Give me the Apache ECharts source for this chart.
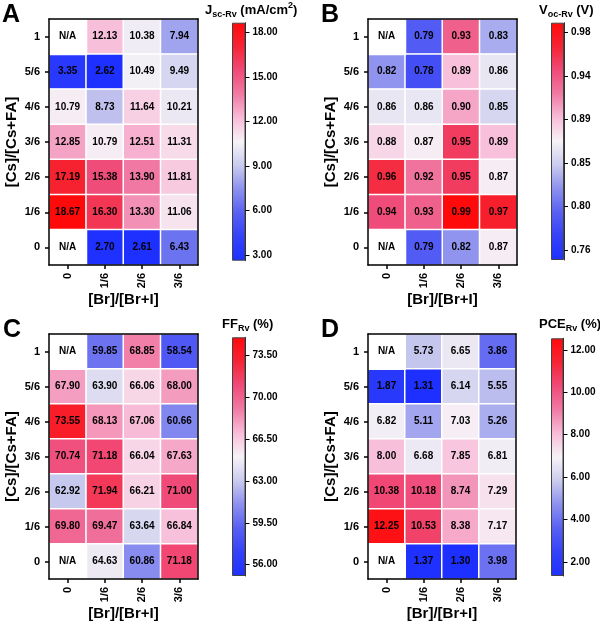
<!DOCTYPE html>
<html>
<head>
<meta charset="utf-8">
<script src="https://cdn.jsdelivr.net/npm/echarts@6/dist/echarts.min.js"></script>
<style>
html,body{margin:0;padding:0;background:#fff;}
#chart{width:600px;height:625px;}
</style>
</head>
<body>
<div id="chart"></div>
<script>
// ---------- data ----------
const xCats = ['0', '1/6', '2/6', '3/6'];            // [Br]/[Br+I]
const yCats = ['0', '1/6', '2/6', '3/6', '4/6', '5/6', '1']; // [Cs]/[Cs+FA], bottom -> top

// rows listed top (1) to bottom (0); null = N/A
const jscRows = [
  [null, 12.13, 10.38, 7.94],
  [3.35, 2.62, 10.49, 9.49],
  [10.79, 8.73, 11.64, 10.21],
  [12.85, 10.79, 12.51, 11.31],
  [17.19, 15.38, 13.90, 11.81],
  [18.67, 16.30, 13.30, 11.06],
  [null, 2.70, 2.61, 6.43]
];
const vocRows = [
  [null, 0.79, 0.93, 0.83],
  [0.82, 0.78, 0.89, 0.86],
  [0.86, 0.86, 0.90, 0.85],
  [0.88, 0.87, 0.95, 0.89],
  [0.96, 0.92, 0.95, 0.87],
  [0.94, 0.93, 0.99, 0.97],
  [null, 0.79, 0.82, 0.87]
];
const ffRows = [
  [null, 59.85, 68.85, 58.54],
  [67.90, 63.90, 66.06, 68.00],
  [73.55, 68.13, 67.06, 60.66],
  [70.74, 71.18, 66.04, 67.63],
  [62.92, 71.94, 66.21, 71.00],
  [69.80, 69.47, 63.64, 66.84],
  [null, 64.63, 60.86, 71.18]
];
const pceRows = [
  [null, 5.73, 6.65, 3.86],
  [1.87, 1.31, 6.14, 5.55],
  [6.82, 5.11, 7.03, 5.26],
  [8.00, 6.68, 7.85, 6.81],
  [10.38, 10.18, 8.74, 7.29],
  [12.25, 10.53, 8.38, 7.17],
  [null, 1.37, 1.30, 3.98]
];

// colour-scale ranges and colour-bar ticks
const jscRange = [2.60, 18.65];
const jscTicks = [3, 6, 9, 12, 15, 18];
const jscTickLabels = ['3.00', '6.00', '9.00', '12.00', '15.00', '18.00'];
const vocRange = [0.745, 0.99];
const vocTicks = [0.755, 0.80, 0.845, 0.89, 0.935, 0.98];
const vocTickLabels = ['0.76', '0.80', '0.85', '0.89', '0.94', '0.98'];
const ffRange = [55.05, 75.0];
const ffTicks = [56, 59.5, 63, 66.5, 70, 73.5];
const ffTickLabels = ['56.00', '59.50', '63.00', '66.50', '70.00', '73.50'];
const pceRange = [1.33, 12.55];
const pceTicks = [2, 4, 6, 8, 10, 12];
const pceTickLabels = ['2.00', '4.00', '6.00', '8.00', '10.00', '12.00'];

const panelLetters = ['A', 'B', 'C', 'D'];
const barTitles = [
  '{m|J}{s|sc-Rv}{m| (mA/cm}{p|2}{m|)}',
  '{m|V}{s|oc-Rv}{m| (V)}',
  '{m|FF}{s|Rv}{m| (%)}',
  '{m|PCE}{s|Rv}{m| (%)}'
];
const xTitle = '[Br]/[Br+I]';
const yTitle = '[Cs]/[Cs+FA]';

// blue-white-red palette (evenly spaced stops)
const palette = ['#1e30ff', '#3442f8', '#5860f2', '#8c90ee', '#cacbee', '#f6f2f6',
                 '#f8bcd8', '#f07aa4', '#f04a78', '#f62434', '#ff0a0a'];

// ---------- layout ----------
const FONT = "'Liberation Sans', Arial, sans-serif";
const NARROW = "'Liberation Sans Narrow', 'Liberation Sans', Arial, sans-serif";
const heatGrids = [
  {left: 49, top: 19, width: 149, height: 246},
  {left: 368, top: 19, width: 149, height: 246},
  {left: 49, top: 334, width: 149, height: 245},
  {left: 368, top: 334, width: 148, height: 245}
];
const barGrids = [
  {left: 232, top: 22.7, width: 13.5, height: 238},
  {left: 551, top: 22.7, width: 13, height: 237.3},
  {left: 232, top: 337.3, width: 13.5, height: 238.7},
  {left: 551, top: 338.3, width: 12.5, height: 237.7}
];
const letterPos = [[2, 3], [321, 3], [3, 318], [321, 318]];
const barTitlePos = [[205, 1], [539, 1], [222, 315], [539, 315]];

const panels = [
  {rows: jscRows, range: jscRange, ticks: jscTicks, labels: jscTickLabels},
  {rows: vocRows, range: vocRange, ticks: vocTicks, labels: vocTickLabels},
  {rows: ffRows, range: ffRange, ticks: ffTicks, labels: ffTickLabels},
  {rows: pceRows, range: pceRange, ticks: pceTicks, labels: pceTickLabels}
];

const option = {
  backgroundColor: '#fff',
  animation: false,
  title: [], grid: [], xAxis: [], yAxis: [], series: [], visualMap: []
};

const labelStyle = {color: '#000', fontWeight: 'bold', fontFamily: FONT};

panels.forEach((p, i) => {
  option.grid.push(Object.assign({containLabel: false}, heatGrids[i]));
  option.title.push({
    text: panelLetters[i], left: letterPos[i][0], top: letterPos[i][1], padding: 0,
    textStyle: {fontSize: 25, fontWeight: 'bold', fontFamily: FONT, color: '#000'}
  });
  option.title.push({
    text: barTitles[i], left: barTitlePos[i][0], top: barTitlePos[i][1], padding: 0,
    textStyle: {
      fontFamily: FONT, color: '#000',
      rich: {
        m: {fontSize: 13, fontWeight: 'bold', fontFamily: FONT, color: '#000', lineHeight: 18},
        s: {fontSize: 9, fontWeight: 'bold', fontFamily: FONT, color: '#000', verticalAlign: 'bottom'},
        p: {fontSize: 9, fontWeight: 'bold', fontFamily: FONT, color: '#000', verticalAlign: 'top'}
      }
    }
  });
});
panels.forEach((p, i) => {
  option.grid.push(Object.assign({containLabel: false}, barGrids[i]));
});

const frameLine = {show: true, lineStyle: {color: '#000', width: 1.5}};

panels.forEach((p, i) => {
  option.xAxis.push({
    type: 'category', data: xCats, gridIndex: i, position: 'bottom', z: 10,
    axisLine: frameLine,
    axisTick: {show: true, alignWithLabel: true, length: 4, lineStyle: {color: '#000', width: 1.5}},
    axisLabel: Object.assign({fontSize: 11, rotate: 90, margin: 8}, labelStyle),
    name: xTitle, nameLocation: 'middle', nameGap: 27,
    nameTextStyle: {fontSize: 15, fontWeight: 'bold', fontFamily: FONT, color: '#000'},
    splitLine: {show: false}
  });
  option.xAxis.push({
    type: 'category', data: xCats, gridIndex: i, position: 'top', z: 10,
    axisLine: frameLine, axisTick: {show: false}, axisLabel: {show: false}, splitLine: {show: false}
  });
  option.yAxis.push({
    type: 'category', data: yCats, gridIndex: i, position: 'left', z: 10,
    axisLine: frameLine,
    axisTick: {show: true, alignWithLabel: true, length: 4, lineStyle: {color: '#000', width: 1.5}},
    axisLabel: Object.assign({fontSize: 11, margin: 9}, labelStyle),
    name: yTitle, nameLocation: 'middle', nameGap: 30, nameRotate: 90,
    nameTextStyle: {fontSize: 15, fontWeight: 'bold', fontFamily: FONT, color: '#000'},
    splitLine: {show: false}
  });
  option.yAxis.push({
    type: 'category', data: yCats, gridIndex: i, position: 'right', z: 10,
    axisLine: frameLine, axisTick: {show: false}, axisLabel: {show: false}, splitLine: {show: false}
  });
});

panels.forEach((p, i) => {
  option.xAxis.push({
    type: 'category', data: ['bar'], gridIndex: 4 + i, show: false
  });
  option.yAxis.push({
    type: 'value', gridIndex: 4 + i, position: 'right',
    min: p.range[0], max: p.range[1], z: 10,
    axisLine: {show: true, lineStyle: {color: '#333', width: 1}},
    axisTick: {show: true, length: 4, lineStyle: {color: '#000', width: 1}, customValues: p.ticks},
    axisLabel: {
      show: true, fontSize: 10, margin: 7, color: '#000', fontWeight: 'bold', fontFamily: FONT,
      customValues: p.ticks,
      formatter: (v) => {
        const k = p.ticks.findIndex(t => Math.abs(t - v) < 1e-6);
        return k >= 0 ? p.labels[k] : v.toFixed(2);
      }
    },
    splitLine: {show: false}
  });
});

panels.forEach((p, i) => {
  const vals = [], nas = [];
  p.rows.forEach((row, r) => {
    const yi = yCats.length - 1 - r;
    row.forEach((v, xi) => {
      if (v === null) nas.push([xi, yi, 0]);
      else vals.push([xi, yi, v]);
    });
  });
  const base = option.series.length;
  option.series.push({
    type: 'heatmap', xAxisIndex: 2 * i, yAxisIndex: 2 * i, data: vals,
    itemStyle: {borderColor: '#fff', borderWidth: 1.5},
    label: {show: true, formatter: (d) => d.value[2].toFixed(2), fontSize: 10,
            fontWeight: 'bold', color: '#000', fontFamily: NARROW},
    emphasis: {disabled: true}
  });
  option.series.push({
    type: 'heatmap', xAxisIndex: 2 * i, yAxisIndex: 2 * i, data: nas,
    itemStyle: {color: '#fff', borderColor: '#fff', borderWidth: 1.5},
    label: {show: true, formatter: 'N/A', fontSize: 10, fontWeight: 'bold',
            color: '#000', fontFamily: NARROW},
    emphasis: {disabled: true}
  });
  option.visualMap.push({
    type: 'continuous', show: false, seriesIndex: base, dimension: 2,
    min: p.range[0], max: p.range[1], inRange: {color: palette}
  });
  option.series.push({
    type: 'bar', xAxisIndex: 8 + i, yAxisIndex: 8 + i, stack: 'cb' + i,
    data: [p.range[0]], barWidth: '100%', silent: true,
    itemStyle: {color: 'rgba(0,0,0,0)'}
  });
  option.series.push({
    type: 'bar', xAxisIndex: 8 + i, yAxisIndex: 8 + i, stack: 'cb' + i,
    data: [p.range[1] - p.range[0]], barWidth: '100%', silent: true,
    itemStyle: {
      color: new echarts.graphic.LinearGradient(0, 1, 0, 0,
        palette.map((c, k) => ({offset: k / (palette.length - 1), color: c}))),
      borderColor: '#444', borderWidth: 1
    }
  });
});

const chart = echarts.init(document.getElementById('chart'), null, {renderer: 'canvas'});
chart.setOption(option);
</script>
</body>
</html>
